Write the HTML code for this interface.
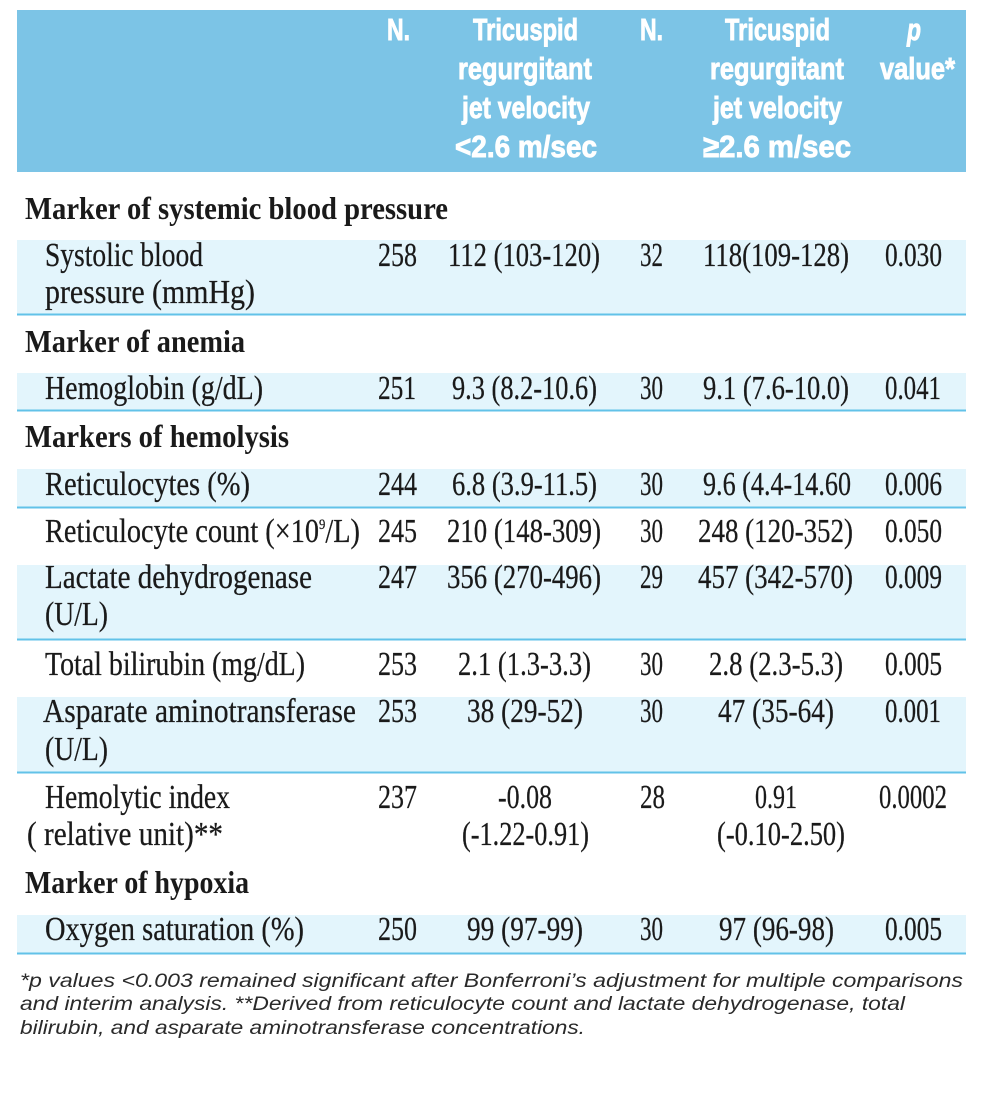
<!DOCTYPE html>
<html><head><meta charset="utf-8"><style>
html,body{margin:0;padding:0;background:#fff;}
svg{display:block;}
.h{font-family:"Liberation Sans",sans-serif;font-weight:bold;font-size:31px;fill:#fff;stroke:#fff;stroke-width:0.9px;}
.s{font-family:"Liberation Serif",serif;font-weight:bold;font-size:32px;fill:#1a1a1a;}
.t{font-family:"Liberation Serif",serif;font-size:33.5px;fill:#1a1a1a;stroke:#1a1a1a;stroke-width:0.25px;}
.f{font-family:"Liberation Sans",sans-serif;font-style:italic;font-size:19.5px;fill:#2a2a2a;}
</style></head><body>
<svg width="984" height="1098" viewBox="0 0 984 1098" xmlns="http://www.w3.org/2000/svg">
<rect x="17" y="10" width="949" height="162" fill="#7cc4e6"/>
<!-- bands -->
<rect x="17" y="240" width="949" height="74" fill="#e3f5fc"/>
<rect x="17" y="373" width="949" height="37" fill="#e3f5fc"/>
<rect x="17" y="469" width="949" height="38" fill="#e3f5fc"/>
<rect x="17" y="565" width="949" height="74" fill="#e3f5fc"/>
<rect x="17" y="697" width="949" height="75" fill="#e3f5fc"/>
<rect x="17" y="915" width="949" height="38" fill="#e3f5fc"/>
<!-- lines -->
<g fill="#62c2e8">
<rect x="17" y="313.5" width="949" height="2"/>
<rect x="17" y="409.5" width="949" height="2"/>
<rect x="17" y="506.5" width="949" height="2"/>
<rect x="17" y="638.5" width="949" height="2"/>
<rect x="17" y="771.5" width="949" height="2"/>
<rect x="17" y="952.5" width="949" height="2"/>
</g>
<!-- header -->
<g class="h">
<text x="387" y="40" textLength="23" lengthAdjust="spacingAndGlyphs">N.</text>
<text x="473" y="40" textLength="105" lengthAdjust="spacingAndGlyphs">Tricuspid</text>
<text x="458" y="79" textLength="134" lengthAdjust="spacingAndGlyphs">regurgitant</text>
<text x="462" y="118" textLength="128" lengthAdjust="spacingAndGlyphs">jet velocity</text>
<text x="455" y="157" textLength="142" lengthAdjust="spacingAndGlyphs">&lt;2.6 m/sec</text>
<text x="640" y="40" textLength="23" lengthAdjust="spacingAndGlyphs">N.</text>
<text x="725" y="40" textLength="105" lengthAdjust="spacingAndGlyphs">Tricuspid</text>
<text x="710" y="79" textLength="134" lengthAdjust="spacingAndGlyphs">regurgitant</text>
<text x="713" y="118" textLength="129" lengthAdjust="spacingAndGlyphs">jet velocity</text>
<text x="703" y="157" textLength="148" lengthAdjust="spacingAndGlyphs">≥2.6 m/sec</text>
<text x="907" y="40" textLength="14" lengthAdjust="spacingAndGlyphs" font-style="italic">p</text>
<text x="880" y="79" textLength="75" lengthAdjust="spacingAndGlyphs">value*</text>
</g>
<!-- section headers -->
<text class="s" x="25" y="219" textLength="423" lengthAdjust="spacingAndGlyphs">Marker of systemic blood pressure</text>
<text class="s" x="25" y="352" textLength="220" lengthAdjust="spacingAndGlyphs">Marker of anemia</text>
<text class="s" x="25" y="447" textLength="264" lengthAdjust="spacingAndGlyphs">Markers of hemolysis</text>
<text class="s" x="25" y="893" textLength="224" lengthAdjust="spacingAndGlyphs">Marker of hypoxia</text>
<!-- labels -->
<g class="t">
<text x="45" y="266" textLength="158" lengthAdjust="spacingAndGlyphs">Systolic blood</text>
<text x="45" y="303" textLength="210" lengthAdjust="spacingAndGlyphs">pressure (mmHg)</text>
<text x="45" y="399" textLength="218" lengthAdjust="spacingAndGlyphs">Hemoglobin (g/dL)</text>
<text x="45" y="495" textLength="205" lengthAdjust="spacingAndGlyphs">Reticulocytes (%)</text>
<text x="45" y="542" textLength="315" lengthAdjust="spacingAndGlyphs">Reticulocyte count (×10<tspan font-size="15" dy="-13">9</tspan><tspan dy="13">/L)</tspan></text>
<text x="45" y="588" textLength="267" lengthAdjust="spacingAndGlyphs">Lactate dehydrogenase</text>
<text x="45" y="625" textLength="63" lengthAdjust="spacingAndGlyphs">(U/L)</text>
<text x="45" y="675" textLength="260" lengthAdjust="spacingAndGlyphs">Total bilirubin (mg/dL)</text>
<text x="43" y="722" textLength="313" lengthAdjust="spacingAndGlyphs">Asparate aminotransferase</text>
<text x="45" y="760" textLength="63" lengthAdjust="spacingAndGlyphs">(U/L)</text>
<text x="45" y="808" textLength="185" lengthAdjust="spacingAndGlyphs">Hemolytic index</text>
<text x="27" y="845" textLength="196" lengthAdjust="spacingAndGlyphs">( relative unit)**</text>
<text x="45" y="940" textLength="259" lengthAdjust="spacingAndGlyphs">Oxygen saturation (%)</text>
</g>
<!-- data -->
<g class="t">
<text x="378" y="266" textLength="39" lengthAdjust="spacingAndGlyphs">258</text>
<text x="448" y="266" textLength="152" lengthAdjust="spacingAndGlyphs">112 (103-120)</text>
<text x="640" y="266" textLength="23" lengthAdjust="spacingAndGlyphs">32</text>
<text x="703" y="266" textLength="146" lengthAdjust="spacingAndGlyphs">118(109-128)</text>
<text x="885" y="266" textLength="57" lengthAdjust="spacingAndGlyphs">0.030</text>

<text x="378" y="399" textLength="38" lengthAdjust="spacingAndGlyphs">251</text>
<text x="452" y="399" textLength="145" lengthAdjust="spacingAndGlyphs">9.3 (8.2-10.6)</text>
<text x="640" y="399" textLength="23" lengthAdjust="spacingAndGlyphs">30</text>
<text x="703" y="399" textLength="146" lengthAdjust="spacingAndGlyphs">9.1 (7.6-10.0)</text>
<text x="885" y="399" textLength="56" lengthAdjust="spacingAndGlyphs">0.041</text>

<text x="378" y="495" textLength="39" lengthAdjust="spacingAndGlyphs">244</text>
<text x="452" y="495" textLength="145" lengthAdjust="spacingAndGlyphs">6.8 (3.9-11.5)</text>
<text x="640" y="495" textLength="23" lengthAdjust="spacingAndGlyphs">30</text>
<text x="703" y="495" textLength="148" lengthAdjust="spacingAndGlyphs">9.6 (4.4-14.60</text>
<text x="885" y="495" textLength="57" lengthAdjust="spacingAndGlyphs">0.006</text>

<text x="378" y="542" textLength="39" lengthAdjust="spacingAndGlyphs">245</text>
<text x="447" y="542" textLength="154" lengthAdjust="spacingAndGlyphs">210 (148-309)</text>
<text x="640" y="542" textLength="23" lengthAdjust="spacingAndGlyphs">30</text>
<text x="698" y="542" textLength="155" lengthAdjust="spacingAndGlyphs">248 (120-352)</text>
<text x="885" y="542" textLength="57" lengthAdjust="spacingAndGlyphs">0.050</text>

<text x="378" y="588" textLength="39" lengthAdjust="spacingAndGlyphs">247</text>
<text x="447" y="588" textLength="154" lengthAdjust="spacingAndGlyphs">356 (270-496)</text>
<text x="640" y="588" textLength="23" lengthAdjust="spacingAndGlyphs">29</text>
<text x="698" y="588" textLength="155" lengthAdjust="spacingAndGlyphs">457 (342-570)</text>
<text x="885" y="588" textLength="57" lengthAdjust="spacingAndGlyphs">0.009</text>

<text x="378" y="675" textLength="39" lengthAdjust="spacingAndGlyphs">253</text>
<text x="458" y="675" textLength="133" lengthAdjust="spacingAndGlyphs">2.1 (1.3-3.3)</text>
<text x="640" y="675" textLength="23" lengthAdjust="spacingAndGlyphs">30</text>
<text x="709" y="675" textLength="134" lengthAdjust="spacingAndGlyphs">2.8 (2.3-5.3)</text>
<text x="885" y="675" textLength="57" lengthAdjust="spacingAndGlyphs">0.005</text>

<text x="378" y="722" textLength="39" lengthAdjust="spacingAndGlyphs">253</text>
<text x="467" y="722" textLength="116" lengthAdjust="spacingAndGlyphs">38 (29-52)</text>
<text x="640" y="722" textLength="23" lengthAdjust="spacingAndGlyphs">30</text>
<text x="718" y="722" textLength="116" lengthAdjust="spacingAndGlyphs">47 (35-64)</text>
<text x="885" y="722" textLength="56" lengthAdjust="spacingAndGlyphs">0.001</text>

<text x="378" y="808" textLength="39" lengthAdjust="spacingAndGlyphs">237</text>
<text x="498" y="808" textLength="54" lengthAdjust="spacingAndGlyphs">-0.08</text>
<text x="462" y="845" textLength="127" lengthAdjust="spacingAndGlyphs">(-1.22-0.91)</text>
<text x="640" y="808" textLength="25" lengthAdjust="spacingAndGlyphs">28</text>
<text x="755" y="808" textLength="42" lengthAdjust="spacingAndGlyphs">0.91</text>
<text x="717" y="845" textLength="128" lengthAdjust="spacingAndGlyphs">(-0.10-2.50)</text>
<text x="879" y="808" textLength="68" lengthAdjust="spacingAndGlyphs">0.0002</text>

<text x="378" y="940" textLength="39" lengthAdjust="spacingAndGlyphs">250</text>
<text x="467" y="940" textLength="116" lengthAdjust="spacingAndGlyphs">99 (97-99)</text>
<text x="640" y="940" textLength="23" lengthAdjust="spacingAndGlyphs">30</text>
<text x="719" y="940" textLength="115" lengthAdjust="spacingAndGlyphs">97 (96-98)</text>
<text x="885" y="940" textLength="57" lengthAdjust="spacingAndGlyphs">0.005</text>
</g>
<!-- footnote -->
<g class="f">
<text x="20" y="987" textLength="943" lengthAdjust="spacingAndGlyphs">*p values &lt;0.003 remained significant after Bonferroni’s adjustment for multiple comparisons</text>
<text x="20" y="1010" textLength="885" lengthAdjust="spacingAndGlyphs">and interim analysis. **Derived from reticulocyte count and lactate dehydrogenase, total</text>
<text x="20" y="1034" textLength="565" lengthAdjust="spacingAndGlyphs">bilirubin, and asparate aminotransferase concentrations.</text>
</g>
</svg>
</body></html>
